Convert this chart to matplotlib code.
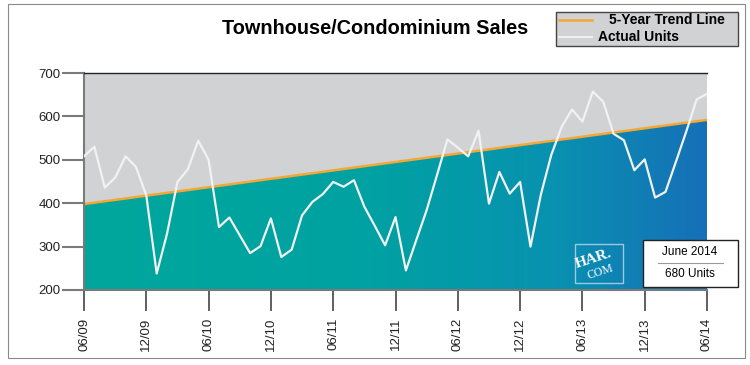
import numpy as np
import matplotlib
matplotlib.use("Agg")
import matplotlib.pyplot as plt
from matplotlib.colors import LinearSegmentedColormap
from matplotlib.patches import Rectangle, Polygon

plt.rcParams['font.family'] = ['Liberation Sans', 'DejaVu Sans']

# monthly actual units, 06/09 .. 06/14
actual = [508, 530, 436, 459, 508, 484, 418, 238, 330, 449, 478, 544, 500,
          345, 367, 326, 285, 301, 365, 276, 293, 372, 403, 421, 449, 438,
          453, 392, 348, 303, 368, 245, 315, 384, 465, 547, 528, 508, 567,
          399, 472, 422, 449, 300, 420, 511, 576, 616, 588, 657, 634, 560,
          545, 476, 501, 413, 426, 495, 565, 639, 652]
trend_start = 398
trend_end = 592
tick_labels = ["06/09", "12/09", "06/10", "12/10", "06/11", "12/11",
               "06/12", "12/12", "06/13", "12/13", "06/14"]
yticks = [200, 300, 400, 500, 600, 700]

months = np.arange(len(actual))
trend = np.linspace(trend_start, trend_end, len(actual))

fig = plt.figure(figsize=(7.5, 3.65), dpi=100)
fig.patch.set_facecolor("white")

# outer frame
fig.patches.append(Rectangle((8/750, 1 - 358/365), 737/750, 354/365,
                             transform=fig.transFigure, fill=False,
                             edgecolor="#8a8a8a", lw=0.8))

ax = fig.add_axes([84/750, 1 - 290/365, 623/750, 217/365])
ax.set_facecolor("#D1D2D4")
ax.set_xlim(0, 60)
ax.set_ylim(200, 700)

# gradient area below the trend line
cmap = LinearSegmentedColormap.from_list(
    "tb", [(0, "#00A79C"), (0.45, "#00A2A2"), (0.75, "#0892B0"), (1, "#1670B8")])
grad = np.linspace(0, 1, 300).reshape(1, -1)
im = ax.imshow(grad, cmap=cmap, aspect="auto", extent=[0, 60, 200, 700],
               zorder=1)
poly = Polygon(list(zip(months, trend)) + [(60, 200), (0, 200)],
               closed=True, transform=ax.transData)
im.set_clip_path(poly)

ax.plot(months, trend, color="#F5A733", lw=1.8, zorder=2)
ax.plot(months, actual, color="#F2F2F2", lw=1.6, zorder=3)

ax.set_yticks(yticks)
ax.set_xticks(np.arange(0, 61, 6))
ax.set_xticklabels(tick_labels, rotation=90)
ax.tick_params(axis="y", length=16, width=1.5, color="#7a7a7a",
               labelsize=9.5, pad=1, labelcolor="#222222")
ax.tick_params(axis="x", length=15, width=1.2, color="#444444",
               labelsize=9.5, pad=5, labelcolor="#222222")
for s in ["left", "bottom"]:
    ax.spines[s].set_color("#7a7a7a")
    ax.spines[s].set_linewidth(1.5)
ax.spines["right"].set_visible(False)
ax.spines["top"].set_color("#222222")
ax.spines["top"].set_linewidth(1)

fig.text(375/750, 1 - 28/365, "Townhouse/Condominium Sales",
         ha="center", va="center", fontsize=14.3, fontweight="bold")

# legend box
fig.patches.append(Rectangle((556/750, 1 - 46/365), 182/750, 34/365,
                             transform=fig.transFigure, facecolor="#D1D2D4",
                             edgecolor="#444444", lw=1))
fig.lines.append(plt.Line2D([559/750, 592/750], [1 - 20/365, 1 - 20/365],
                            transform=fig.transFigure, color="#F5A733", lw=1.8))
fig.lines.append(plt.Line2D([559/750, 592/750], [1 - 37/365, 1 - 37/365],
                            transform=fig.transFigure, color="#F5F5F5", lw=1.3))
fig.text(609/750, 1 - 20/365, "5-Year Trend Line", ha="left", va="center",
         fontsize=10, fontweight="bold")
fig.text(598/750, 1 - 37/365, "Actual Units", ha="left", va="center",
         fontsize=10, fontweight="bold")

# HAR.COM badge
fig.patches.append(Rectangle((575/750, 1 - 283/365), 48/750, 39/365,
                             transform=fig.transFigure, fill=False,
                             edgecolor="#9ec8e0", lw=1))
fig.text(594/750, 1 - 259/365, "HAR.", ha="center", va="center",
         fontsize=11, fontweight="bold", family="Liberation Serif",
         color="white", rotation=18)
fig.text(600/750, 1 - 272/365, "COM", ha="center", va="center",
         fontsize=8.5, family="Liberation Serif", color="white", rotation=18)

# last month box
fig.patches.append(Rectangle((643/750, 1 - 287/365), 95/750, 47/365,
                             transform=fig.transFigure, facecolor="white",
                             edgecolor="#222222", lw=1, zorder=5))
fig.lines.append(plt.Line2D([658/750, 723/750], [1 - 263/365, 1 - 263/365],
                            transform=fig.transFigure, color="#999999",
                            lw=0.8, zorder=6))
fig.text(690/750, 1 - 252/365, "June 2014", ha="center", va="center",
         fontsize=8.5, zorder=7)
fig.text(690/750, 1 - 274/365, "680 Units", ha="center", va="center",
         fontsize=8.5, zorder=7)

fig.savefig("out.png", dpi=100)
